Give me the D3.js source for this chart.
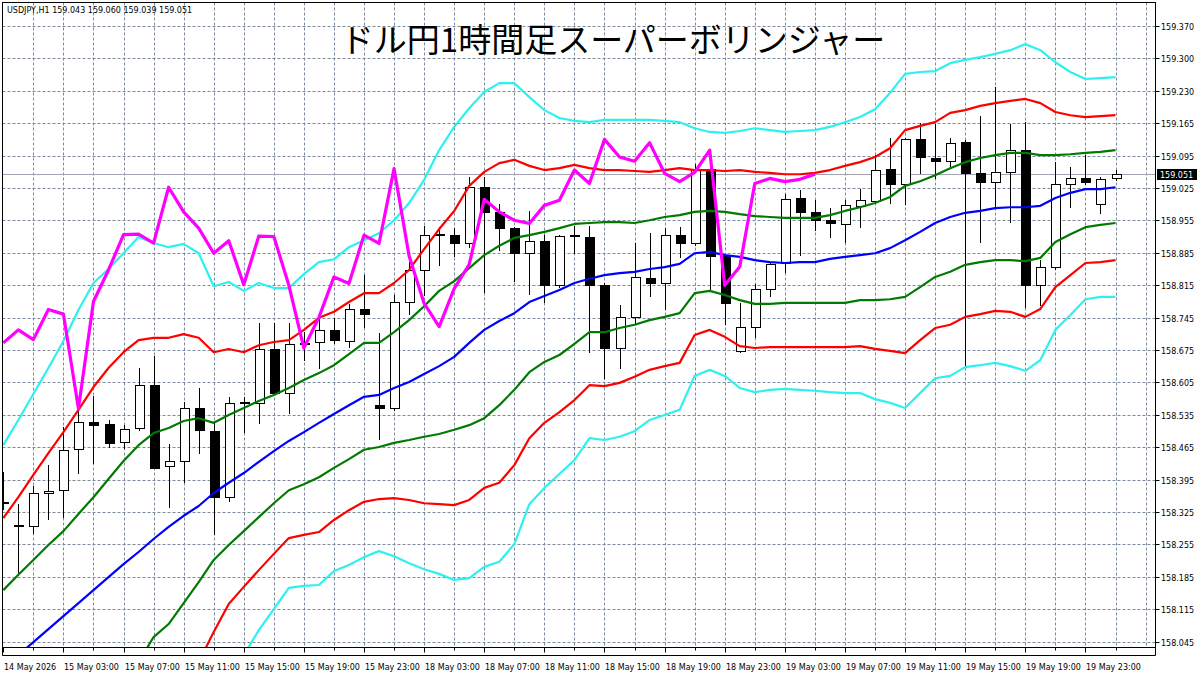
<!DOCTYPE html>
<html><head><meta charset="utf-8">
<script src="https://cdn.jsdelivr.net/npm/d3@7"></script>
<style>body{margin:0;background:#fff}svg{display:block}</style>
</head><body>
<svg id="c" width="1199" height="674"></svg>
<script>
// ---------- data ----------
const symbolInfo = "USDJPY,H1 159.043 159.060 159.039 159.051";
const chartTitle = "ドル円1時間足スーパーボリンジャー";
const lastPrice = 159.051;
const chikouShift = 20;
const timeLabels = ["14 May 2026","15 May 03:00","15 May 07:00","15 May 11:00","15 May 15:00","15 May 19:00","15 May 23:00","18 May 03:00","18 May 07:00","18 May 11:00","18 May 15:00","18 May 19:00","18 May 23:00","19 May 03:00","19 May 07:00","19 May 11:00","19 May 15:00","19 May 19:00","19 May 23:00"];
const priceTicks = [158.0450,158.1147,158.1845,158.2542,158.3239,158.3937,158.4634,158.5332,158.6029,158.6726,158.7424,158.8121,158.8818,158.9516,159.0213,159.0911,159.1608,159.2305,159.3003,159.3700];
const priceTickLabels = ["158.045","158.115","158.185","158.255","158.325","158.395","158.465","158.535","158.605","158.675","158.745","158.815","158.885","158.955","159.025","159.095","159.165","159.230","159.300","159.370"];

const open = [158.343,158.296,158.294,158.364,158.371,158.459,158.517,158.513,158.474,158.504,
158.597,158.423,158.434,158.547,158.499,158.356,158.559,158.558,158.674,158.580,
158.685,158.690,158.716,158.693,158.760,158.554,158.547,158.777,158.845,158.921,
158.920,158.903,159.023,158.970,158.935,158.881,158.908,158.813,158.921,158.915,
158.812,158.677,158.743,158.828,158.816,158.920,158.902,159.063,158.875,158.671,
158.723,158.805,158.860,158.999,158.970,158.953,158.944,158.983,158.993,159.063,
159.031,159.126,159.087,159.080,159.120,159.054,159.035,159.055,159.104,158.812,
158.851,159.031,159.042,158.988,159.043];
const high = [158.411,158.341,158.380,158.425,158.508,158.545,158.574,158.522,158.511,158.633,
158.660,158.470,158.561,158.592,158.518,158.572,158.571,158.730,158.730,158.730,
158.712,158.741,158.741,158.772,158.834,158.709,158.791,158.862,158.940,158.938,
158.935,159.046,159.046,158.988,158.937,158.972,158.920,158.921,158.940,158.940,
158.818,158.770,158.904,158.925,158.935,158.938,159.072,159.066,158.878,158.774,
158.815,158.859,159.008,159.016,158.995,158.978,158.995,159.019,159.092,159.130,
159.128,159.162,159.159,159.130,159.125,159.177,159.239,159.159,159.164,158.866,
159.078,159.066,159.092,159.046,159.060];
const low = [158.330,158.189,158.278,158.308,158.313,158.409,158.430,158.463,158.461,158.501,
158.418,158.335,158.389,158.452,158.277,158.348,158.497,158.516,158.578,158.538,
158.651,158.633,158.688,158.680,158.723,158.481,158.544,158.750,158.791,158.856,
158.875,158.895,158.798,158.888,158.822,158.793,158.777,158.809,158.881,158.669,
158.612,158.633,158.731,158.789,158.760,158.873,158.898,158.802,158.729,158.669,
158.701,158.789,158.841,158.877,158.932,158.915,158.906,158.938,158.990,158.990,
158.988,159.053,159.042,159.064,158.641,158.906,158.981,158.949,158.766,158.770,
158.848,158.981,159.030,158.968,159.039];
const close = [158.345,158.294,158.364,158.370,158.458,158.517,158.511,158.472,158.503,158.597,
158.419,158.434,158.547,158.501,158.356,158.559,158.560,158.674,158.580,158.685,
158.688,158.716,158.695,158.760,158.750,158.547,158.777,158.845,158.921,158.922,
158.903,159.023,158.970,158.935,158.881,158.908,158.813,158.918,158.917,158.812,
158.677,158.743,158.830,158.816,158.920,158.902,159.063,158.875,158.773,158.723,
158.805,158.857,158.997,158.970,158.952,158.945,158.984,158.995,159.060,159.031,
159.126,159.088,159.079,159.119,159.053,159.035,159.055,159.103,158.812,158.852,
159.031,159.042,159.035,159.040,159.051];

const bbUpper3 = [158.468,158.522,158.578,158.634,158.692,158.759,158.817,158.847,158.881,158.916,
158.903,158.894,158.901,158.881,158.810,158.819,158.800,158.817,158.806,158.806,
158.836,158.862,158.868,158.894,158.909,158.924,158.952,158.989,159.039,159.103,
159.153,159.193,159.228,159.247,159.247,159.217,159.189,159.172,159.166,159.163,
159.168,159.168,159.168,159.168,159.166,159.163,159.150,159.142,159.140,159.144,
159.150,159.146,159.142,159.144,159.146,159.153,159.163,159.174,159.191,159.226,
159.267,159.271,159.273,159.290,159.297,159.303,159.310,159.318,159.331,159.318,
159.292,159.271,159.256,159.258,159.260];
const bbUpper2 = [158.311,158.356,158.404,158.451,158.496,158.544,158.593,158.634,158.668,158.694,
158.699,158.699,158.707,158.699,158.668,158.675,158.668,158.683,158.690,158.694,
158.716,158.742,158.755,158.776,158.795,158.795,158.817,158.845,158.890,158.933,
158.972,159.026,159.056,159.075,159.082,159.069,159.060,159.064,159.071,159.064,
159.060,159.060,159.058,159.056,159.060,159.064,159.060,159.060,159.058,159.060,
159.056,159.054,159.051,159.051,159.054,159.060,159.069,159.077,159.088,159.107,
159.146,159.155,159.163,159.183,159.189,159.198,159.204,159.209,159.213,159.204,
159.185,159.178,159.174,159.176,159.178];
const bbUpper1 = [158.156,158.189,158.221,158.253,158.283,158.320,158.356,158.395,158.434,158.468,
158.494,158.505,158.520,158.526,158.516,158.533,158.548,158.563,158.576,158.591,
158.608,158.623,158.640,158.664,158.688,158.688,158.711,158.737,158.767,158.800,
158.821,158.849,158.877,158.897,158.914,158.920,158.927,158.935,158.944,158.946,
158.948,158.948,158.946,158.952,158.959,158.963,158.970,158.972,158.970,158.965,
158.961,158.959,158.957,158.957,158.957,158.963,158.972,158.980,158.989,159.002,
159.026,159.036,159.049,159.064,159.077,159.086,159.092,159.097,159.097,159.092,
159.092,159.094,159.097,159.099,159.103];
const bbMiddle = [157.988,158.016,158.044,158.072,158.100,158.128,158.156,158.184,158.212,158.238,
158.266,158.292,158.316,158.337,158.365,158.387,158.408,158.432,158.455,158.477,
158.496,158.516,158.535,158.554,158.572,158.576,158.591,158.604,158.621,158.638,
158.658,158.688,158.716,158.735,158.752,158.776,158.789,158.802,158.817,158.826,
158.834,158.838,158.841,158.847,158.851,158.858,158.881,158.884,158.877,158.873,
158.866,158.862,158.860,158.862,158.862,158.869,158.873,158.877,158.881,158.892,
158.909,158.927,158.946,158.959,158.968,158.972,158.978,158.980,158.980,158.983,
159.000,159.011,159.019,159.019,159.023];
const bbLower1 = [null,null,null,null,null,null,null,null,null,158.001,
158.055,158.083,158.128,158.173,158.221,158.253,158.283,158.313,158.343,158.371,
158.384,158.399,158.419,158.438,158.458,158.464,158.473,158.479,158.486,158.492,
158.501,158.511,158.526,158.554,158.587,158.625,158.647,158.662,158.686,158.711,
158.711,158.720,158.727,158.737,158.744,158.752,158.795,158.800,158.791,158.780,
158.772,158.772,158.774,158.774,158.774,158.774,158.774,158.780,158.780,158.782,
158.787,158.808,158.830,158.841,158.856,158.862,158.866,158.866,158.864,158.871,
158.905,158.922,158.937,158.942,158.946];
const bbLower2 = [null,null,null,null,null,null,null,null,null,null,
null,null,null,158.001,158.066,158.126,158.163,158.199,158.234,158.268,
158.275,158.281,158.307,158.328,158.346,158.352,158.354,158.350,158.343,158.341,
158.339,158.350,158.376,158.387,158.425,158.483,158.516,158.539,158.565,158.597,
158.595,158.602,158.615,158.630,158.638,158.645,158.705,158.716,158.701,158.681,
158.677,158.679,158.679,158.679,158.679,158.679,158.679,158.681,158.675,158.671,
158.666,158.694,158.720,158.727,158.744,158.750,158.757,158.755,158.744,158.761,
158.808,158.834,158.860,158.862,158.866];
const bbLower3 = [null,null,null,null,null,null,null,null,null,null,
null,null,null,null,null,null,158.016,158.070,158.115,158.161,
158.165,158.167,158.197,158.210,158.227,158.240,158.229,158.214,158.201,158.191,
158.178,158.182,158.206,158.217,158.255,158.341,158.376,158.406,158.436,158.483,
158.479,158.486,158.498,158.522,158.533,158.544,158.617,158.630,158.617,158.591,
158.582,158.587,158.589,158.587,158.585,158.582,158.580,158.580,158.567,158.559,
158.548,158.580,158.612,158.617,158.636,158.640,158.645,158.638,158.628,158.651,
158.716,158.748,158.782,158.787,158.787];

// ---------- layout ----------
const svg = d3.select("#c");
const plot = {left: 2.5, right: 1155.5, top: 2.5, bottom: 647.5};
const x = d3.scaleLinear().domain([0, 74]).range([3.3, 1115.5]);
const y = d3.scaleLinear().domain([158.045, 159.370]).range([641.7, 26.0]);
const px = v => Math.round(v) + 0.5;

svg.append("defs").append("clipPath").attr("id", "pc")
  .append("rect").attr("x", plot.left).attr("y", plot.top)
  .attr("width", plot.right - plot.left).attr("height", plot.bottom - plot.top);

const gridColor = "#7d8b9c";
const grid = svg.append("g").attr("clip-path", "url(#pc)");
// horizontal grid
grid.selectAll("line.h").data(priceTicks).join("line")
  .attr("x1", plot.left).attr("x2", plot.right)
  .attr("y1", d => px(y(d))).attr("y2", d => px(y(d)))
  .attr("stroke", gridColor).attr("stroke-width", 1).attr("stroke-dasharray", "3,2");
// vertical grid every 2 bars
grid.selectAll("line.v").data(d3.range(2, 77, 2)).join("line")
  .attr("x1", d => px(x(d))).attr("x2", d => px(x(d)))
  .attr("y1", plot.top).attr("y2", plot.bottom)
  .attr("stroke", gridColor).attr("stroke-width", 1).attr("stroke-dasharray", "3,2");

// header text
svg.append("text").attr("x", 7).attr("y", 13)
  .attr("font-family", "DejaVu Sans").attr("font-size", 8).attr("fill", "#000")
  .text(symbolInfo);
// title
svg.append("text").attr("x", 613).attr("y", 52).attr("text-anchor", "middle")
  .attr("font-family", "Noto Sans CJK JP").attr("font-size", 33).attr("fill", "#000")
  .text(chartTitle);

// price line
svg.append("line").attr("x1", plot.left).attr("x2", plot.right)
  .attr("y1", px(y(lastPrice))).attr("y2", px(y(lastPrice)))
  .attr("stroke", "#a3a3b3").attr("stroke-width", 1);

// candles
const cg = svg.append("g").attr("clip-path", "url(#pc)");
const idx = d3.range(close.length);
cg.selectAll("line.wick").data(idx).join("line")
  .attr("x1", i => px(x(i))).attr("x2", i => px(x(i)))
  .attr("y1", i => Math.round(y(high[i]))).attr("y2", i => Math.round(y(low[i])) + 1)
  .attr("stroke", "#000").attr("stroke-width", 1);
idx.forEach(i => {
  const top = Math.round(y(Math.max(open[i], close[i])));
  const bot = Math.round(y(Math.min(open[i], close[i])));
  const cx = Math.round(x(i));
  if (bot - top < 2) {
    cg.append("rect").attr("x", cx - 4).attr("y", top).attr("width", 10).attr("height", Math.max(2, bot - top + 1))
      .attr("fill", "#000");
  } else {
    cg.append("rect").attr("x", cx - 4 + 0.5).attr("y", top + 0.5).attr("width", 9).attr("height", bot - top)
      .attr("fill", close[i] >= open[i] ? "#fff" : "#000").attr("stroke", "#000").attr("stroke-width", 1);
  }
});

// bands
const lg = svg.append("g").attr("clip-path", "url(#pc)");
const line = d3.line().defined(d => d != null).x((d, i) => x(i)).y(d => y(d));
const bands = [
  [bbUpper3, "#2ff0f0"], [bbLower3, "#2ff0f0"],
  [bbUpper2, "#ff0000"], [bbLower2, "#ff0000"],
  [bbUpper1, "#007a00"], [bbLower1, "#007a00"],
  [bbMiddle, "#0000ff"]
];
bands.forEach(([arr, col]) => {
  lg.append("path").attr("d", line(arr)).attr("fill", "none")
    .attr("stroke", col).attr("stroke-width", 2.2).attr("stroke-linejoin", "round");
});
// chikou (lagging) span: closes drawn chikouShift bars back
const chikou = close.slice(chikouShift);
lg.append("path").attr("d", line(chikou)).attr("fill", "none")
  .attr("stroke", "#ff00ff").attr("stroke-width", 3.2).attr("stroke-linejoin", "round");

// frame
svg.append("rect").attr("x", plot.left).attr("y", plot.top)
  .attr("width", plot.right - plot.left).attr("height", plot.bottom - plot.top)
  .attr("fill", "none").attr("stroke", "#000").attr("stroke-width", 1);

// time axis strip
const axisY2 = 655.5;
svg.append("line").attr("x1", plot.left).attr("x2", plot.right).attr("y1", axisY2).attr("y2", axisY2).attr("stroke", "#000");
svg.append("line").attr("x1", plot.left).attr("x2", plot.left).attr("y1", plot.bottom).attr("y2", axisY2).attr("stroke", "#000");
svg.append("line").attr("x1", plot.right).attr("x2", plot.right).attr("y1", plot.bottom).attr("y2", axisY2).attr("stroke", "#000");
svg.selectAll("line.tt").data(timeLabels).join("line")
  .attr("x1", (d, k) => px(x(k * 4))).attr("x2", (d, k) => px(x(k * 4)))
  .attr("y1", plot.bottom).attr("y2", plot.bottom + 5).attr("stroke", "#000");
svg.selectAll("line.tm").data(timeLabels).join("line")
  .attr("x1", (d, k) => px(x(k * 4 + 2))).attr("x2", (d, k) => px(x(k * 4 + 2)))
  .attr("y1", plot.bottom).attr("y2", plot.bottom + 3).attr("stroke", "#000");
svg.selectAll("text.tl").data(timeLabels).join("text")
  .attr("x", (d, k) => Math.round(x(k * 4)) + 1).attr("y", 670)
  .attr("font-family", "DejaVu Sans").attr("font-size", 8).attr("fill", "#000")
  .text(d => d);

// price axis
svg.selectAll("line.pt").data(priceTicks).join("line")
  .attr("x1", plot.right).attr("x2", plot.right + 4)
  .attr("y1", d => px(y(d))).attr("y2", d => px(y(d))).attr("stroke", "#000");
svg.selectAll("text.pl").data(priceTickLabels).join("text")
  .attr("x", 1161).attr("y", (d, k) => Math.round(y(priceTicks[k])) + 4)
  .attr("font-family", "DejaVu Sans").attr("font-size", 8).attr("fill", "#000")
  .text(d => d);
// last price tag
const ly = Math.round(y(lastPrice));
svg.append("rect").attr("x", 1157).attr("y", ly - 5).attr("width", 40).attr("height", 11).attr("fill", "#000");
svg.append("text").attr("x", 1160).attr("y", ly + 4)
  .attr("font-family", "DejaVu Sans").attr("font-size", 8).attr("fill", "#fff")
  .text(lastPrice.toFixed(3));
</script>
</body></html>
